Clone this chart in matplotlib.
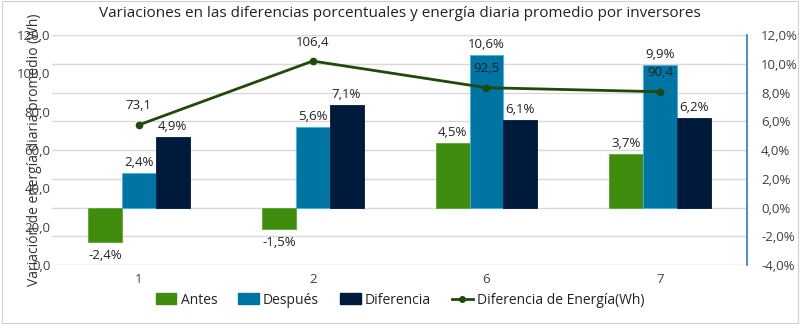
import matplotlib.pyplot as plt
from matplotlib.patches import Rectangle
from matplotlib.lines import Line2D
import numpy as np

plt.rcParams['font.family'] = ['Open Sans', 'DejaVu Sans']

inversores = ['1', '2', '6', '7']
antes = [-2.4, -1.5, 4.5, 3.7]
despues = [2.4, 5.6, 10.6, 9.9]
diferencia = [4.9, 7.1, 6.1, 6.2]
energia = [73.1, 106.4, 92.5, 90.4]

c_antes = '#3f8c0e'
c_desp = '#0075a3'
c_dif = '#001a3b'
c_line = '#1f4a0c'
txt = '#404040'

def fmt(v, pct=False):
    s = f"{v:.1f}".replace('.', ',')
    return s + '%' if pct else s

fig = plt.figure(figsize=(8, 3.24), dpi=100)
fig.patches.append(Rectangle((0.002, 0.003), 0.996, 0.994, transform=fig.transFigure,
                             fill=False, edgecolor='#d0d0d0', lw=0.8))

ax1 = fig.add_axes([0.065, 0.182, 0.869, 0.71])
ax2 = ax1.twinx()
ax1.set_zorder(ax2.get_zorder() + 1)
ax1.patch.set_visible(False)

x = np.arange(len(inversores))
w = 0.195

b1 = ax2.bar(x - w, antes, w, color=c_antes, edgecolor='#5aa82a', lw=0.6, zorder=3)
b2 = ax2.bar(x, despues, w, color=c_desp, edgecolor='#3fb6e0', lw=0.6, zorder=3)
b3 = ax2.bar(x + w, diferencia, w, color=c_dif, edgecolor=c_dif, lw=0.6, zorder=3)

ax2.set_ylim(-4, 12)
ax2.set_yticks(np.arange(-4, 12.1, 2))
ax2.set_yticklabels([fmt(v, True) for v in np.arange(-4, 12.1, 2)])
ax2.grid(axis='y', color='#d9d9d9', lw=1, zorder=0)
ax2.set_axisbelow(True)

for bars, vals in ((b1, antes), (b2, despues), (b3, diferencia)):
    for r, v in zip(bars, vals):
        cx = r.get_x() + r.get_width() / 2
        if v < 0:
            ax2.annotate(fmt(v, True), (cx, v), xytext=(0, -5), textcoords='offset points',
                         ha='center', va='top', fontsize=9.5, color='#222222')
        else:
            ax2.annotate(fmt(v, True), (cx, v), xytext=(0, 3), textcoords='offset points',
                         ha='center', va='bottom', fontsize=9.5, color='#222222')

ax1.plot(x, energia, color=c_line, lw=2, marker='o', ms=4.5, zorder=5)
for xi, v in zip(x, energia):
    ax1.annotate(fmt(v), (xi, v), xytext=(0, 9), textcoords='offset points',
                 ha='center', va='bottom', fontsize=9.5, color='#222222')

ax1.set_ylim(0, 120)
ax1.set_yticks(np.arange(0, 121, 20))
ax1.set_yticklabels([fmt(v) for v in np.arange(0, 121, 20)])
ax1.set_xlim(-0.5, len(inversores) - 0.5)
ax1.set_xticks(x)
ax1.set_xticklabels(inversores)
ax1.set_ylabel('Variación de energía diaria promedio (Wh)', fontsize=10, color='#333333')
ax1.yaxis.set_label_coords(-0.014, 0.5)

for a in (ax1, ax2):
    for s in ('top', 'left', 'bottom', 'right'):
        a.spines[s].set_visible(False)
    a.tick_params(length=0, labelsize=9.5, colors=txt)
ax1.tick_params(axis='x', pad=6)
ax1.tick_params(axis='y', pad=1)
ax2.tick_params(axis='y', pad=10)
ax2.spines['right'].set_visible(True)
ax2.spines['right'].set_color('#2f75d0')
ax2.spines['right'].set_linewidth(1.2)

fig.suptitle('Variaciones en las diferencias porcentuales y energía diaria promedio por inversores',
             y=0.98, fontsize=11, color='#222222')

handles = [Rectangle((0, 0), 1, 1, color=c_antes), Rectangle((0, 0), 1, 1, color=c_desp),
           Rectangle((0, 0), 1, 1, color=c_dif),
           Line2D([], [], color=c_line, lw=2, marker='o', ms=4)]
fig.legend(handles, ['Antes', 'Después', 'Diferencia', 'Diferencia de Energía(Wh)'],
           loc='lower center', bbox_to_anchor=(0.5, 0.012), ncol=4, frameon=False,
           fontsize=10, handlelength=1.5, handleheight=0.8, columnspacing=1.5,
           handletextpad=0.3, labelcolor='#222222')

fig.savefig('out.png', dpi=100)
